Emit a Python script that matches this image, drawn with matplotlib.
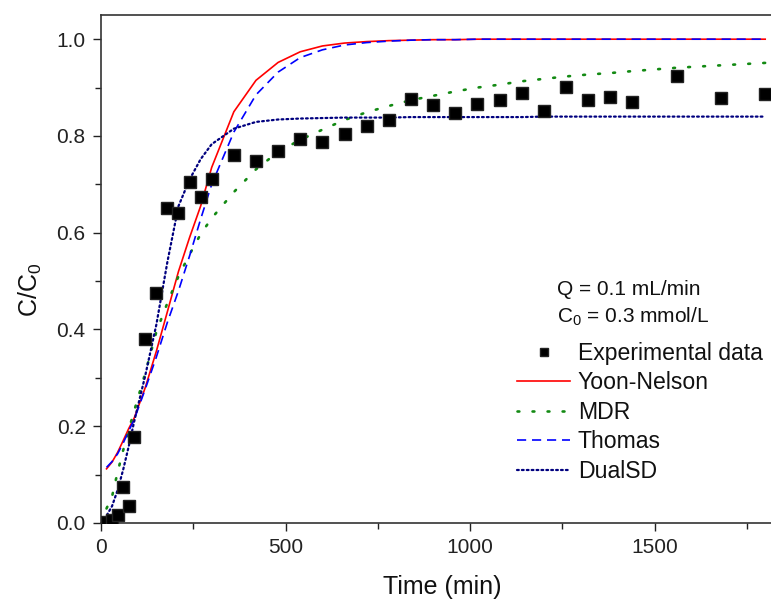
import matplotlib
matplotlib.use("Agg")
import matplotlib.pyplot as plt
from matplotlib.ticker import MultipleLocator, FormatStrFormatter, FixedLocator

plt.rcParams['font.family'] = ['Liberation Sans', 'DejaVu Sans']
plt.rcParams['mathtext.fontset'] = 'custom'
plt.rcParams['mathtext.rm'] = 'Liberation Sans'
plt.rcParams['mathtext.it'] = 'Liberation Sans'
plt.rcParams['mathtext.default'] = 'regular'

# ---- data ----
t_exp = [15, 30, 45, 60, 75, 90, 120, 150, 180, 210, 240, 270, 300, 360, 420, 480,
         540, 600, 660, 720, 780, 840, 900, 960, 1020, 1080, 1140, 1200, 1260, 1320,
         1380, 1440, 1560, 1680, 1800]
c_exp = [0.002, 0.006, 0.017, 0.074, 0.035, 0.178, 0.380, 0.476, 0.652, 0.640, 0.705,
         0.674, 0.710, 0.760, 0.748, 0.769, 0.793, 0.787, 0.805, 0.821, 0.833, 0.877,
         0.864, 0.847, 0.867, 0.874, 0.889, 0.851, 0.902, 0.875, 0.880, 0.871, 0.924,
         0.878, 0.886]

t_model = t_exp
yoon_nelson = [0.112, 0.126, 0.146, 0.170, 0.195, 0.217, 0.280, 0.355, 0.437, 0.520,
               0.590, 0.655, 0.735, 0.850, 0.915, 0.952, 0.974, 0.986, 0.992, 0.995,
               0.997, 0.998, 0.999, 0.999, 1.0, 1.0, 1.0, 1.0, 1.0, 1.0, 1.0, 1.0, 1.0,
               1.0, 1.0]
mdr = [0.030, 0.055, 0.105, 0.150, 0.192, 0.232, 0.310, 0.395, 0.455, 0.510, 0.555,
       0.597, 0.630, 0.684, 0.731, 0.767, 0.792, 0.813, 0.833, 0.849, 0.862, 0.874,
       0.883, 0.892, 0.900, 0.906, 0.913, 0.918, 0.923, 0.927, 0.930, 0.934, 0.941,
       0.946, 0.951]
thomas = [0.115, 0.127, 0.143, 0.165, 0.190, 0.214, 0.277, 0.343, 0.415, 0.480, 0.552,
          0.628, 0.700, 0.808, 0.885, 0.932, 0.962, 0.978, 0.988, 0.993, 0.996, 0.998,
          0.999, 0.999, 1.0, 1.0, 1.0, 1.0, 1.0, 1.0, 1.0, 1.0, 1.0, 1.0, 1.0]
t_dual = [0] + t_exp
dualsd = [0.0, 0.015, 0.035, 0.068, 0.110, 0.158, 0.210, 0.305, 0.410, 0.540, 0.655,
          0.710, 0.752, 0.783, 0.815, 0.829, 0.834, 0.836, 0.837, 0.838, 0.838, 0.838,
          0.839, 0.839, 0.839, 0.839, 0.839, 0.839, 0.840, 0.840, 0.840, 0.840, 0.840,
          0.840, 0.840, 0.840]
x_major = [0, 500, 1000, 1500]
x_minor = [250, 750, 1250, 1750]

W, H = 771, 602
fig = plt.figure(figsize=(W / 100, H / 100), dpi=100)
ax_left, ax_bottom, ax_top = 101, 523, 15
xmax = 2000
ax_w = xmax * 0.369
ax = fig.add_axes([ax_left / W, (H - ax_bottom) / H, ax_w / W, (ax_bottom - ax_top) / H])

ax.plot(t_exp, c_exp, linestyle='none', marker='s', markersize=8.3, color='black',
        markeredgecolor='#222222', label='Experimental data', zorder=5)
ax.plot(t_model, yoon_nelson, color='#ff0000', lw=1.2, label='Yoon-Nelson', zorder=3)
ax.plot(t_model, mdr, color='#138a13', lw=1.9, linestyle=(0, (0.7, 5.0)),
        dash_capstyle='round', label='MDR', zorder=3)
ax.plot(t_model, thomas, color='#0000ff', lw=1.2, linestyle=(0, (5.5, 3.5)),
        label='Thomas', zorder=3)
ax.plot(t_dual, dualsd, color='#00007f', lw=1.6, linestyle=(0, (0.8, 1.4)),
        dash_capstyle='round', label='DualSD', zorder=3)

ax.set_xlim(0, xmax)
ax.set_ylim(0, 1.05)
ax.xaxis.set_major_locator(FixedLocator(x_major))
ax.xaxis.set_minor_locator(FixedLocator(x_minor))
ax.yaxis.set_major_locator(MultipleLocator(0.2))
ax.yaxis.set_minor_locator(MultipleLocator(0.1))
ax.yaxis.set_major_formatter(FormatStrFormatter('%.1f'))
ax.tick_params(which='major', direction='out', length=6, width=1.0, labelsize=15,
               colors='#222222', pad=5)
ax.tick_params(which='minor', direction='out', length=4, width=1.0, colors='#222222')
for s in ax.spines.values():
    s.set_linewidth(1.2)
    s.set_color('#333333')

fig.text(442 / W, 1 - 587 / H, 'Time (min)', ha='center', va='center', fontsize=18,
         color='#111111')
fig.text(30 / W, 1 - 290 / H, 'C/C$_0$', ha='center', va='center', rotation=90,
         fontsize=18, color='#111111')

fig.text(557 / W, 1 - 290 / H, 'Q = 0.1 mL/min', ha='left', va='center', fontsize=15,
         color='#111111')
fig.text(557 / W, 1 - 317 / H, 'C$_0$ = 0.3 mmol/L', ha='left', va='center', fontsize=15,
         color='#111111')

leg = ax.legend(loc='upper left', bbox_to_anchor=(517 / W, 1 - 342 / H),
                bbox_transform=fig.transFigure, frameon=False, fontsize=16.6,
                handlelength=2.3, handletextpad=0.33, labelspacing=0.28,
                borderpad=0, borderaxespad=0, markerscale=0.72)
for txt in leg.get_texts():
    txt.set_color('#111111')

fig.savefig('out.png', dpi=100)
